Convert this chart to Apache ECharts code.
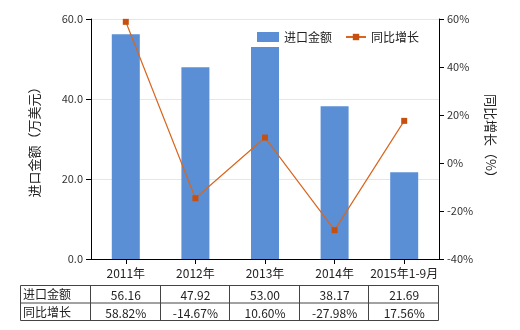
<!DOCTYPE html>
<html><head><meta charset="utf-8">
<script src="https://cdn.jsdelivr.net/npm/echarts@6/dist/echarts.min.js"></script>
<style>html,body{margin:0;padding:0;background:#fff}#c{width:520px;height:330px}</style>
</head><body><div id="c"></div>
<script>
const categories = ['2011年','2012年','2013年','2014年','2015年1-9月'];
const importValues = [56.16, 47.92, 53.00, 38.17, 21.69];
const growthValues = [58.82, -14.67, 10.60, -27.98, 17.56];
const importLabels = ['56.16','47.92','53.00','38.17','21.69'];
const growthLabels = ['58.82%','-14.67%','10.60%','-27.98%','17.56%'];
const seriesNames = ['进口金额','同比增长'];

const W = 520, H = 330;
const G = {left: 91, right: 81, top: 19, bottom: 71};
const font = '"Noto Sans CJK SC", sans-serif';
const plotW = W - G.left - G.right;
const cw = plotW / categories.length;
const tX0 = 20, tY0 = 285, rowH = 17.5;

const graphics = [];
const tableRight = G.left + plotW - 1;
graphics.push({type:'rect', shape:{x:tX0+0.5, y:tY0+0.5, width:tableRight-tX0, height:rowH*2}, style:{fill:'none', stroke:'#444', lineWidth:1}});
graphics.push({type:'line', shape:{x1:tX0, y1:tY0+rowH+0.5, x2:tableRight, y2:tY0+rowH+0.5}, style:{stroke:'#444', lineWidth:1}});
for (let i = 0; i < categories.length; i++) {
  const x = Math.round(G.left + cw*i - 1) + 0.5;
  graphics.push({type:'line', shape:{x1:x, y1:tY0, x2:x, y2:tY0+rowH*2}, style:{stroke:'#444', lineWidth:1}});
}
const rows = [[seriesNames[0], importLabels],[seriesNames[1], growthLabels]];
rows.forEach((r, ri) => {
  const cy = tY0 + rowH*ri + rowH/2 + 1;
  graphics.push({type:'text', x:tX0+3, y:cy, style:{text:r[0], fill:'#222', font:'12px '+font, textVerticalAlign:'middle'}});
  r[1].forEach((t, ci) => {
    graphics.push({type:'text', x:G.left + cw*ci + cw/2, y:cy+1, style:{text:t, fill:'#222', font:'12px '+font, textAlign:'center', textVerticalAlign:'middle'}});
  });
});

const chart = echarts.init(document.getElementById('c'), null, {renderer:'canvas'});
chart.setOption({
  animation:false,
  backgroundColor:'#fff',
  textStyle:{fontFamily:font},
  grid:{left:G.left, right:G.right, top:G.top, bottom:G.bottom, containLabel:false},
  legend:[{
    top:26, left:252, itemWidth:22, itemHeight:10, itemGap:5,
    textStyle:{fontSize:12, color:'#222', fontFamily:font},
    data:[{name:seriesNames[0], icon:'rect'}]
  },{
    top:26, left:340, itemWidth:20, itemHeight:8,
    textStyle:{fontSize:12, color:'#222', fontFamily:font},
    data:[{name:seriesNames[1]}]
  }],
  xAxis:{
    type:'category', data:categories,
    axisLine:{lineStyle:{color:'#000'}},
    axisTick:{show:true, alignWithLabel:true, lineStyle:{color:'#000'}},
    axisLabel:{color:'#222', fontSize:12, margin:8, interval:0, fontFamily:font}
  },
  yAxis:[{
    type:'value', min:0, max:60, interval:20,
    name:'进口金额（万美元）', nameLocation:'middle', nameGap:50, nameRotate:90,
    nameTextStyle:{fontSize:13, color:'#222', fontFamily:font},
    axisLine:{show:true, lineStyle:{color:'#000'}},
    axisTick:{show:true, lineStyle:{color:'#000'}},
    axisLabel:{color:'#333', fontSize:11, formatter:v=>v.toFixed(1)},
    splitLine:{lineStyle:{color:'#e6e6e6'}}
  },{
    type:'value', min:-40, max:60, interval:20,
    name:'同比增长（%）', nameLocation:'middle', nameGap:45, nameRotate:-90,
    nameTextStyle:{fontSize:13, color:'#222', fontFamily:font},
    axisLine:{show:true, lineStyle:{color:'#000'}},
    axisTick:{show:true, lineStyle:{color:'#000'}},
    axisLabel:{color:'#333', fontSize:11, formatter:'{value}%'},
    splitLine:{show:false}
  }],
  series:[{
    name:seriesNames[0], type:'bar', data:importValues, barWidth:28,
    itemStyle:{color:'#5a8fd6'}
  },{
    name:seriesNames[1], type:'line', yAxisIndex:1, data:growthValues,
    symbol:'rect', symbolSize:6,
    lineStyle:{color:'#d8661e', width:1.2},
    itemStyle:{color:'#c8500f'}
  }],
  graphic:graphics
});
</script></body></html>
